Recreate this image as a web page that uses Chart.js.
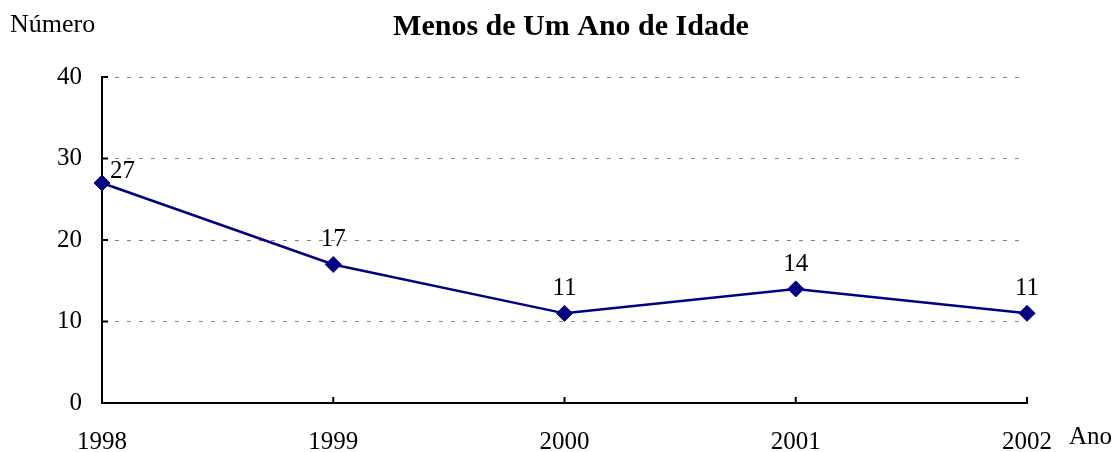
<!DOCTYPE html>
<html><head><meta charset="utf-8">
<script src="https://cdn.jsdelivr.net/npm/chart.js@4/dist/chart.umd.min.js"></script>
<style>html,body{margin:0;padding:0;background:#fff}#wrap{width:1116px;height:452px}</style>
</head><body><div id="wrap"><canvas id="c" width="1116" height="452"></canvas></div>
<script>
const categories = ["1998", "1999", "2000", "2001", "2002"];
const values = [27, 17, 11, 14, 11];
const yTicks = [0, 10, 20, 30, 40];
const titleText = "Menos de Um Ano de Idade";
const yAxisTitle = "Número";
const xAxisTitle = "Ano";

const FONT = "'Liberation Serif', 'Times New Roman', serif";

const decor = {
  id: 'decor',
  afterDatasetsDraw(chart) {
    const ctx = chart.ctx, a = chart.chartArea;
    const xs = chart.scales.x, ys = chart.scales.y;
    ctx.save();
    // axis tick marks (inside)
    ctx.strokeStyle = '#000'; ctx.lineWidth = 2;
    yTicks.forEach(v => {
      const y = ys.getPixelForValue(v);
      ctx.beginPath(); ctx.moveTo(a.left, y); ctx.lineTo(a.left + 6, y); ctx.stroke();
    });
    categories.forEach((c, i) => {
      const x = xs.getPixelForValue(i);
      ctx.beginPath(); ctx.moveTo(x, a.bottom); ctx.lineTo(x, a.bottom - 6); ctx.stroke();
    });
    // data labels
    ctx.fillStyle = '#000';
    ctx.font = "25px " + FONT;
    ctx.textBaseline = 'alphabetic';
    const meta = chart.getDatasetMeta(0);
    meta.data.forEach((pt, i) => {
      let x = pt.x, y = pt.y - 18;
      ctx.textAlign = 'center';
      if (x - 14 < a.left) { ctx.textAlign = 'left'; x = pt.x + 8; y = pt.y - 5; }
      ctx.fillText(String(values[i]), x, y);
    });
    // titles
    ctx.font = "bold 30px " + FONT;
    ctx.textAlign = 'center';
    ctx.fillText(titleText, 571, 35);
    ctx.font = "26px " + FONT;
    ctx.textAlign = 'left';
    ctx.fillText(yAxisTitle, 10, 32);
    ctx.font = "25px " + FONT;
    ctx.fillText(xAxisTitle, 1069, 444);
    ctx.restore();
  }
};

new Chart(document.getElementById('c'), {
  type: 'line',
  data: {
    labels: categories,
    datasets: [{
      data: values,
      borderColor: '#000080',
      backgroundColor: '#000080',
      borderWidth: 2.5,
      pointStyle: 'rectRot',
      pointRadius: 8,
      pointHoverRadius: 8,
      pointBorderWidth: 1,
      tension: 0,
      clip: false
    }]
  },
  options: {
    responsive: false,
    animation: false,
    devicePixelRatio: 1,
    layout: { padding: { top: 77, right: 89, left: 0, bottom: 0 } },
    plugins: { legend: { display: false }, tooltip: { enabled: false }, title: { display: false } },
    scales: {
      x: {
        offset: false,
        grid: { display: false, drawTicks: false },
        border: { display: true, color: '#000', width: 2 },
        ticks: { padding: 24, color: '#000', font: { family: FONT, size: 25 }, maxRotation: 0, autoSkip: false },
        afterFit(s) { s.height = 49; }
      },
      y: {
        min: 0, max: 40,
        afterBuildTicks(s) { s.ticks = yTicks.map(v => ({ value: v })); },
        grid: {
          drawTicks: false,
          color: (c) => c.tick && c.tick.value === 0 ? 'rgba(0,0,0,0)' : '#808080',
          lineWidth: 1
        },
        border: { display: true, color: '#000', width: 2, dash: [4, 8] },
        ticks: { padding: 20, color: '#000', font: { family: FONT, size: 25 } },
        afterFit(s) { s.width = 102; }
      }
    }
  },
  plugins: [decor]
});
</script></body></html>
